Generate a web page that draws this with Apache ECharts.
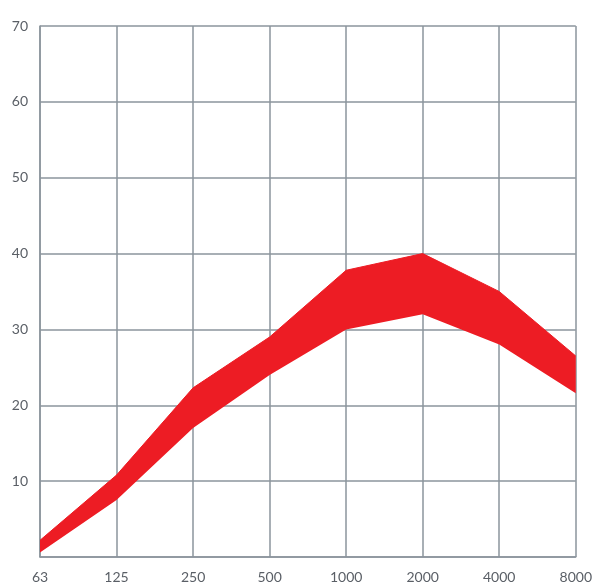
<!DOCTYPE html>
<html>
<head>
<meta charset="utf-8">
<script src="https://cdn.jsdelivr.net/npm/echarts@6/dist/echarts.min.js"></script>
<style>
html,body{margin:0;padding:0;background:#fff;}
#c{width:595px;height:586px;}
</style>
</head>
<body>
<div id="c"></div>
<script>
const categories = ['63','125','250','500','1000','2000','4000','8000'];
const upperValues = [2.2, 10.8, 22.3, 29, 37.8, 40, 35, 26.5];
const lowerValues = [0.6, 7.5, 17, 24, 30, 32, 28, 21.6];
const yTicks = [0,10,20,30,40,50,60,70];

const bandValues = upperValues.map((u,i)=> +(u - lowerValues[i]).toFixed(2));
const red = '#ED1C24';
const gridColor = '#8B949C';

const chart = echarts.init(document.getElementById('c'), null, {renderer:'canvas'});
chart.setOption({
  animation:false,
  grid:{left:40, right:18, top:26, bottom:29, containLabel:false},
  xAxis:{
    type:'category',
    data:categories,
    boundaryGap:false,
    axisLine:{show:true, lineStyle:{color:gridColor, width:1.5}},
    axisTick:{show:false},
    splitLine:{show:true, lineStyle:{color:gridColor, width:1.5}},
    axisLabel:{color:'#5a5f66', fontFamily:'Lato', fontSize:14, margin:13, interval:0}
  },
  yAxis:{
    type:'value',
    min:yTicks[0], max:yTicks[yTicks.length-1], interval:10,
    axisLine:{show:true, lineStyle:{color:gridColor, width:1.5}},
    axisTick:{show:false},
    splitLine:{show:true, lineStyle:{color:gridColor, width:1.5}},
    axisLabel:{color:'#5a5f66', fontFamily:'Lato', fontSize:14, margin:12,
      formatter:v=> v===0 ? '' : String(v)}
  },
  series:[
    {type:'line', stack:'band', data:lowerValues, symbol:'none',
     lineStyle:{opacity:0}, areaStyle:{opacity:0}, silent:true},
    {type:'line', stack:'band', data:bandValues, symbol:'none',
     lineStyle:{color:red, width:1}, areaStyle:{color:red, opacity:1}, silent:true}
  ]
});
</script>
</body>
</html>
